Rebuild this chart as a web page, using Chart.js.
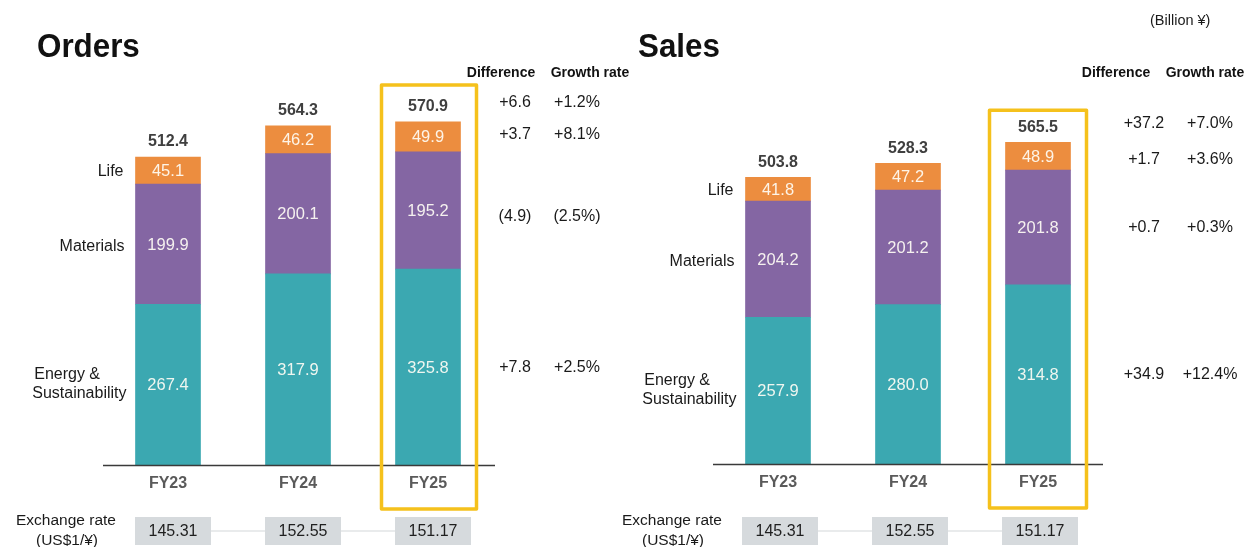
<!DOCTYPE html>
<html>
<head>
<meta charset="utf-8">
<script src="https://cdn.jsdelivr.net/npm/chart.js@4.4.1/dist/chart.umd.min.js"></script>
<style>
  html, body { margin: 0; padding: 0; background: #ffffff; }
  #wrap { position: relative; width: 1246px; height: 547px; overflow: hidden; }
  canvas { position: absolute; left: 0; top: 0; }
</style>
</head>
<body>
<div id="wrap">
  <canvas id="orders" width="1246" height="547"></canvas>
  <canvas id="sales" width="1246" height="547"></canvas>
</div>
<script>
// Fiscal years on the x axis
const years = ['FY23', 'FY24', 'FY25'];

// Segment names (bottom to top in each stack)
const segmentNames = ['Energy & Sustainability', 'Materials', 'Life'];

// Orders by segment (Billion ¥)
const ordersEnergy = [267.4, 317.9, 325.8];
const ordersMaterials = [199.9, 200.1, 195.2];
const ordersLife = [45.1, 46.2, 49.9];
const ordersTotal = [512.4, 564.3, 570.9];

// Sales by segment (Billion ¥)
const salesEnergy = [257.9, 280.0, 314.8];
const salesMaterials = [204.2, 201.2, 201.8];
const salesLife = [41.8, 47.2, 48.9];
const salesTotal = [503.8, 528.3, 565.5];

// Year-on-year change for FY25: total, Life, Materials, Energy & Sustainability
const ordersDiff = ['+6.6', '+3.7', '(4.9)', '+7.8'];
const ordersGrowth = ['+1.2%', '+8.1%', '(2.5%)', '+2.5%'];
const salesDiff = ['+37.2', '+1.7', '+0.7', '+34.9'];
const salesGrowth = ['+7.0%', '+3.6%', '+0.3%', '+12.4%'];

// Average exchange rate (US$1 / ¥)
const exchangeRates = ['145.31', '152.55', '151.17'];

const COLORS = {
  energy: '#3BA8B1',
  materials: '#8466A3',
  life: '#EC8D3F',
  highlight: '#F5C11C',
  rateBox: '#D6DADD',
  rateLine: '#E2E4E6'
};
const FONT = '"Liberation Sans", Arial, Helvetica, sans-serif';
const font = (size, bold) => (bold ? 'bold ' : '') + size + 'px ' + FONT;

// Draws titles, value labels, segment names, the FY25 highlight frame,
// the change columns and the exchange-rate row around each stacked bar chart.
const panelDecor = {
  id: 'panelDecor',
  afterDatasetsDraw(chart, args, o) {
    const ctx = chart.ctx;
    const ys = chart.scales.y;
    const ca = chart.chartArea;
    const base = ys.getPixelForValue(0);
    const metas = [0, 1, 2].map(i => chart.getDatasetMeta(i));
    const n = years.length;
    ctx.save();

    // panel title (slightly condensed heading face)
    ctx.save();
    ctx.translate(o.titleX, 57);
    ctx.scale(0.95, 1);
    ctx.fillStyle = '#111111';
    ctx.font = font(33, true);
    ctx.textAlign = 'left';
    ctx.textBaseline = 'alphabetic';
    ctx.fillText(o.title, 0, 0);
    ctx.restore();

    // baseline
    ctx.strokeStyle = '#3a3a3a';
    ctx.lineWidth = 1.3;
    ctx.beginPath();
    ctx.moveTo(ca.left, base + 0.5);
    ctx.lineTo(ca.right + o.lineExtra, base + 0.5);
    ctx.stroke();

    ctx.textBaseline = 'middle';
    for (let j = 0; j < n; j++) {
      const top = metas[2].data[j];
      // segment values inside the bars
      ctx.font = font(16.5, false);
      ctx.fillStyle = 'rgba(255,253,245,0.92)';
      ctx.textAlign = 'center';
      metas.forEach((m, i) => {
        const el = m.data[j];
        const v = chart.data.datasets[i].data[j];
        ctx.fillText(v.toFixed(1), el.x, (el.y + el.base) / 2 + 1);
      });
      // total above the bar
      ctx.font = font(16, true);
      ctx.fillStyle = '#3f3f3f';
      ctx.fillText(o.totals[j].toFixed(1), top.x, top.y - 15);
      // fiscal year under the axis
      ctx.font = font(16, true);
      ctx.fillStyle = '#5a5a5a';
      ctx.fillText(years[j], top.x, base + 19);
    }

    // segment names beside the first bar
    const first = metas.map(m => m.data[0]);
    const leftEdge = first[0].x - first[0].width / 2;
    ctx.font = font(16, false);
    ctx.fillStyle = '#1a1a1a';
    ctx.textAlign = 'right';
    ctx.fillText(segmentNames[2], leftEdge - 12, (first[2].y + first[2].base) / 2 + 1);
    ctx.fillText(segmentNames[1], leftEdge - 11, (first[1].y + first[1].base) / 2 + 2);
    const lines = ['Energy &', 'Sustainability'];
    const wMax = Math.max(...lines.map(t => ctx.measureText(t).width));
    const cE = (first[0].y + first[0].base) / 2;
    ctx.textAlign = 'left';
    ctx.fillText(lines[0], leftEdge - 9 - wMax + 2, cE - 10);
    ctx.fillText(lines[1], leftEdge - 9 - wMax, cE + 9);

    // highlight frame around the latest year
    const last = metas[2].data[n - 1];
    const half = last.width / 2;
    ctx.strokeStyle = COLORS.highlight;
    ctx.lineWidth = 3.5;
    ctx.lineJoin = 'round';
    ctx.strokeRect(last.x - half - o.frameLeft, last.y - o.frameTop,
      last.width + o.frameLeft + o.frameRight, base + 44 - (last.y - o.frameTop));

    // change columns next to the latest year
    ctx.font = font(14, true);
    ctx.fillStyle = '#111111';
    ctx.textAlign = 'center';
    ctx.fillText('Difference', o.headDiffX, o.headY);
    ctx.fillText('Growth rate', o.headGrowthX, o.headY);
    const rowsY = [
      last.y - 19,
      (metas[2].data[n - 1].y + metas[2].data[n - 1].base) / 2 - 2 + o.lifeShift,
      (metas[1].data[n - 1].y + metas[1].data[n - 1].base) / 2 + o.matShift,
      (metas[0].data[n - 1].y + metas[0].data[n - 1].base) / 2
    ];
    ctx.font = font(16, false);
    ctx.fillStyle = '#1a1a1a';
    rowsY.forEach((y, k) => {
      ctx.fillText(o.diff[k], o.diffX, y);
      ctx.fillText(o.growth[k], o.growthX, y);
    });

    // exchange-rate row
    const rateY = 531;
    ctx.font = font(15.5, false);
    ctx.fillStyle = '#1a1a1a';
    ctx.textAlign = 'center';
    ctx.fillText('Exchange rate', o.rateLabelX, 521);
    ctx.fillText('(US$1/¥)', o.rateLabelX + 1, 541);
    const cx = metas[0].data.map(el => el.x + o.rateShift);
    ctx.strokeStyle = COLORS.rateLine;
    ctx.lineWidth = 1.5;
    ctx.beginPath();
    ctx.moveTo(cx[0], rateY);
    ctx.lineTo(cx[n - 1], rateY);
    ctx.stroke();
    ctx.font = font(16, false);
    for (let j = 0; j < n; j++) {
      ctx.fillStyle = COLORS.rateBox;
      ctx.fillRect(cx[j] - 38, rateY - 14, 76, 28);
      ctx.fillStyle = '#1f1f1f';
      ctx.fillText(exchangeRates[j], cx[j], rateY + 1);
    }

    if (o.unit) {
      ctx.font = font(14.5, false);
      ctx.fillStyle = '#1a1a1a';
      ctx.textAlign = 'left';
      ctx.fillText(o.unit, 1150, 21);
    }
    ctx.restore();
  }
};

function makeChart(id, energy, materials, life, pxPerUnit, padding, decor) {
  const yMax = 700;
  const baseY = 547 - padding.bottom;
  padding.top = baseY - yMax * pxPerUnit;
  return new Chart(document.getElementById(id), {
    type: 'bar',
    data: {
      labels: years,
      datasets: [
        { label: segmentNames[0], data: energy, backgroundColor: COLORS.energy },
        { label: segmentNames[1], data: materials, backgroundColor: COLORS.materials },
        { label: segmentNames[2], data: life, backgroundColor: COLORS.life }
      ]
    },
    options: {
      responsive: false,
      animation: false,
      devicePixelRatio: 1,
      layout: { padding: padding },
      datasets: { bar: { barThickness: 65, borderWidth: 0 } },
      scales: {
        x: { stacked: true, display: false, offset: true },
        y: { stacked: true, display: false, min: 0, max: yMax }
      },
      plugins: {
        legend: { display: false },
        tooltip: { enabled: false },
        panelDecor: decor
      }
    },
    plugins: [panelDecor]
  });
}

makeChart('orders', ordersEnergy, ordersMaterials, ordersLife, 0.601,
  { left: 103, right: 1246 - 493, bottom: 547 - 465 },
  {
    title: 'Orders', titleX: 37, totals: ordersTotal, lineExtra: 2,
    frameLeft: 14, frameRight: 16, frameTop: 37,
    headY: 73, headDiffX: 501, headGrowthX: 590,
    diffX: 515, growthX: 577, diff: ordersDiff, growth: ordersGrowth,
    lifeShift: 0, matShift: 6,
    rateLabelX: 66, rateShift: 5
  });

makeChart('sales', salesEnergy, salesMaterials, salesLife, 0.569,
  { left: 713, right: 1246 - 1103, bottom: 547 - 464 },
  {
    title: 'Sales', titleX: 638, totals: salesTotal, lineExtra: 0,
    frameLeft: 16, frameRight: 16, frameTop: 32,
    headY: 73, headDiffX: 1116, headGrowthX: 1205,
    diffX: 1144, growthX: 1210, diff: salesDiff, growth: salesGrowth,
    lifeShift: 5, matShift: 0,
    rateLabelX: 672, rateShift: 2, unit: '(Billion ¥)'
  });
</script>
</body>
</html>
